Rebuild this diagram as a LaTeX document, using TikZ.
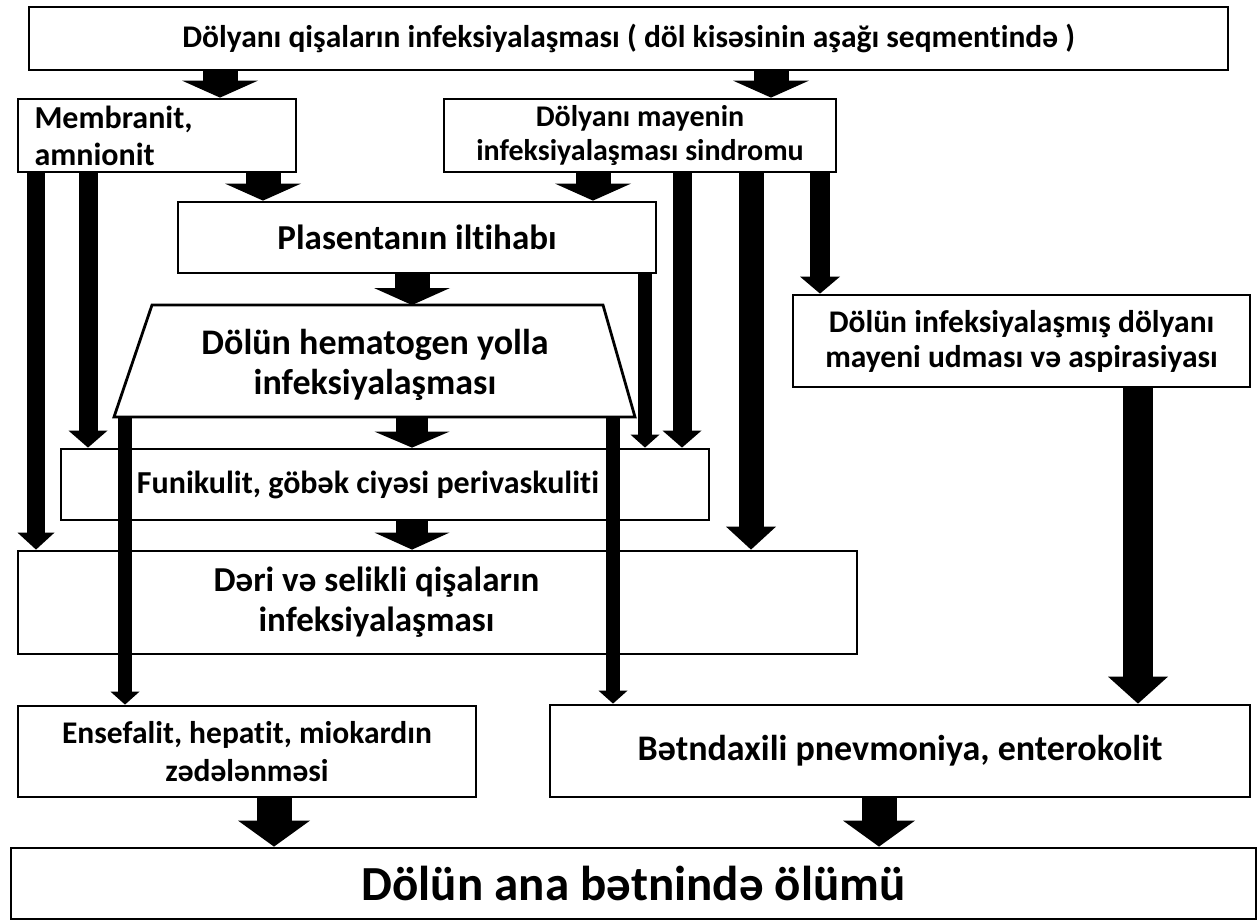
\documentclass[tikz,border=0pt]{standalone}
\usepackage{fontspec}
\setmainfont{Carlito}[Ligatures=CommonOff]
\usetikzlibrary{arrows.meta}
\newcommand\fs[2]{\fontsize{#1}{#2}\selectfont\bfseries}
\tikzset{
  box/.style 2 args={draw, line width=2.8pt, fill=white, minimum width=#1,
    minimum height=#2, inner sep=0pt, align=center},
  blk/.style n args={3}{line width=#1,
    -{Triangle[length=#2, width=#3, line width=0pt]}},
  fat/.style={blk={35pt}{17pt}{76pt}},
  drop/.style={blk={35pt}{26pt}{72pt}},
  slim/.style={blk={13.5pt}{13pt}{29pt}},
  mid/.style={blk={19pt}{17pt}{39pt}}
}
\begin{document}
\begin{tikzpicture}[x=1pt,y=-1pt]
  \useasboundingbox (0,0) rectangle (1258,922);
  % boxes
  \node[box={1199pt}{63pt}, font=\fs{31.5}{36}] (top) at (628.5,38.5)
    {Dölyanı qişaların infeksiyalaşması ( döl kisəsinin aşağı seqmentində )};
  \node[box={278pt}{73pt}, font=\fs{32}{37}, text width=245pt, align=left] (memb)
    at (157,135.5) {Membranit,\\amnionit};
  \node[box={392pt}{73pt}, font=\fs{30}{34}] (mayen) at (640,135.5)
    {Dölyanı mayenin\\infeksiyalaşması sindromu};
  \node[box={478pt}{71pt}, font=\fs{35}{40}] (plas) at (417,237.5)
    {Plasentanın iltihabı};
  \coordinate (htl) at (152,305);
  \coordinate (htr) at (603,305);
  \coordinate (hbr) at (635,417);
  \coordinate (hbl) at (114,417);
  \draw[line width=2.8pt, fill=white, line join=miter] (htl) -- (htr) -- (hbr) -- (hbl) -- cycle;
  \node[font=\fs{36}{40}, align=center] (hema) at (375,365)
    {Dölün hematogen yolla\\infeksiyalaşması};
  \node[box={457pt}{92pt}, font=\fs{31.5}{35}] (infl) at (1021.5,341)
    {Dölün infeksiyalaşmış dölyanı\\mayeni udması və aspirasiyası};
  \node[box={648pt}{71pt}, label={[font=\fs{32}{36}, xshift=-17pt]center:{Funikulit, göbək ciyəsi perivaskuliti}}]
    (funi) at (385,484.5) {};
  \node[box={839pt}{103pt}, label={[font=\fs{35}{40}, align=center, xshift=-61pt]center:{Dəri və selikli qişaların\\infeksiyalaşması}}]
    (deri) at (437.5,602.5) {};
  \node[box={458pt}{91pt}, font=\fs{31.5}{38}] (ens) at (247,751.5)
    {Ensefalit, hepatit, miokardın\\zədələnməsi};
  \node[box={700pt}{92pt}, font=\fs{36}{40}] (betn) at (900,751)
    {Bətndaxili pnevmoniya, enterokolit};
  \node[box={1245pt}{71pt}, font=\fs{49}{54}] (olum) at (633.5,883.5)
    {Dölün ana bətnində ölümü};
  % arrow columns
  \foreach \n/\x in {a/220,b/771,c/263,d/593,e/36,f/88,g/412,h/645,i/682,
                     j/751,k/820,l/125,m/613,n/1138,o/274,p/879}
    \coordinate (x\n) at (\x,0);
  % arrows
  \draw[fat] (top.south -| xa) -- (memb.north -| xa);
  \draw[fat] (top.south -| xb) -- (mayen.north -| xb);
  \draw[fat] (memb.south -| xc) -- (plas.north -| xc);
  \draw[fat] (mayen.south -| xd) -- (plas.north -| xd);
  \draw[blk={18pt}{17pt}{37pt}] (memb.south -| xe) -- (deri.north -| xe);
  \draw[mid] (memb.south -| xf) -- (funi.north -| xf);
  \draw[fat] (plas.south -| xg) -- (htl -| xg);
  \draw[slim] (plas.south -| xh) -- (funi.north -| xh);
  \draw[mid] (mayen.south -| xi) -- (funi.north -| xi);
  \draw[blk={25pt}{23pt}{50pt}] (mayen.south -| xj) -- (deri.north -| xj);
  \draw[blk={20pt}{17pt}{40pt}] (mayen.south -| xk) -- (infl.north -| xk);
  \draw[blk={32pt}{16pt}{75pt}] (hbl -| xg) -- (funi.north -| xg);
  \draw[blk={32pt}{17pt}{75pt}] (funi.south -| xg) -- (deri.north -| xg);
  \draw[slim] (hbl -| xl) -- (ens.north -| xl);
  \draw[slim] (hbl -| xm) -- (betn.north -| xm);
  \draw[blk={30pt}{27pt}{60pt}] (infl.south -| xn) -- (betn.north -| xn);
  \draw[drop] (ens.south -| xo) -- (olum.north -| xo);
  \draw[drop] (betn.south -| xp) -- (olum.north -| xp);
\end{tikzpicture}
\end{document}
